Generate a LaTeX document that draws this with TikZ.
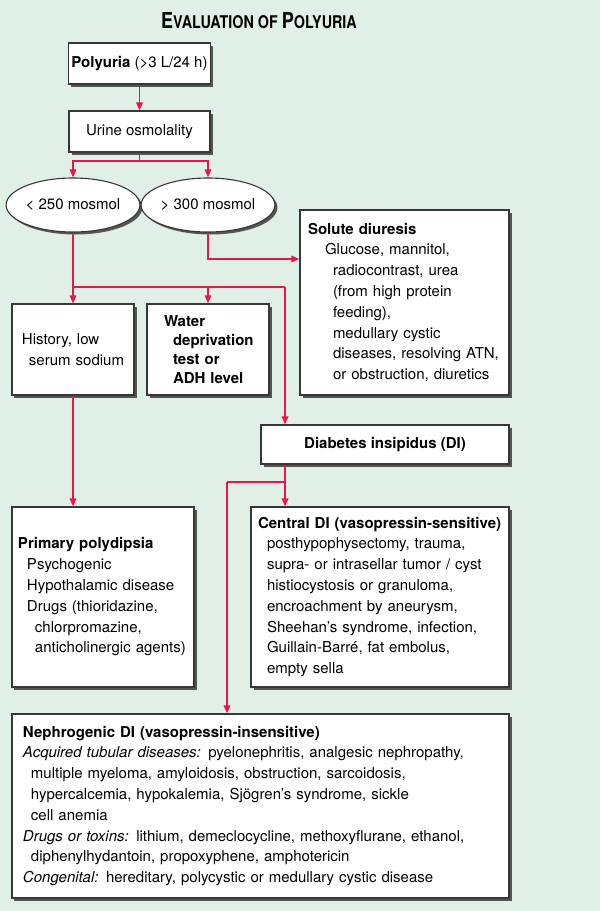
\documentclass[tikz,border=0pt]{standalone}
\usepackage{fontspec}
\setmainfont{TeX Gyre Heros}
\usepackage{tikz}
\usetikzlibrary{arrows.meta,shapes.geometric,shadows}
\definecolor{bgmint}{RGB}{224,240,231}
\definecolor{linkred}{RGB}{232,22,76}
\definecolor{boxline}{RGB}{55,55,55}
\definecolor{boxshade}{RGB}{85,85,85}
\newcommand{\bline}[2]{\mbox{\hspace*{#1bp}#2}}
\tikzset{
	box/.style={draw=boxline, line width=1.1bp, fill=white, inner ysep=0pt,
		general shadow={fill=boxshade, shadow xshift=2.5bp, shadow yshift=-2.5bp},
		font=\fontsize{15bp}{20.8bp}\selectfont},
	oval/.style={box, ellipse, inner sep=0pt},
	link/.style={draw=linkred, line width=1.6bp},
	arrow/.style={link, -{Triangle[length=8bp,width=6.5bp]}}
}
\begin{document}
\begin{tikzpicture}[x=1bp, y=-1bp]
	\useasboundingbox[fill=bgmint] (0,0) rectangle (600,911);
	\node[xscale=0.82, transform shape] (title) at (259,21) {\bfseries\fontsize{22bp}{22bp}\selectfont E\fontsize{17.5bp}{22bp}\selectfont VALUATION OF \fontsize{22bp}{22bp}\selectfont P\fontsize{17.5bp}{22bp}\selectfont OLYURIA};
	\node[box, minimum width=141bp, minimum height=41bp] (poly) at (139.5,63.5) {\textbf{Polyuria} (>3 L/24 h)};
	\node[box, minimum width=141bp, minimum height=41bp] (urine) at (139.5,131.5) {Urine osmolality};
	\node[oval, minimum width=122bp, minimum height=54bp] (low) at (73,205) {< 250 mosmol};
	\node[oval, minimum width=122bp, minimum height=54bp] (high) at (208,205) {> 300 mosmol};
	\node[box, minimum width=209bp, minimum height=185bp, inner xsep=8bp, text width=193bp, align=left] (solute) at (404.5,302.5)
		{\bline{0}{\textbf{Solute diuresis}}\\\bline{17}{Glucose, mannitol,}\\\bline{25}{radiocontrast, urea}\\\bline{25}{(from high protein}\\\bline{25}{feeding),}\\\bline{25}{medullary cystic}\\\bline{25}{diseases, resolving ATN,}\\\bline{25}{or obstruction, diuretics}};
	\node[box, minimum width=122bp, minimum height=91bp, inner xsep=10bp, text width=102bp, align=left] (hist) at (73,349.5)
		{\bline{0}{History, low}\\\bline{7}{serum sodium}};
	\node[box, minimum width=122bp, minimum height=91bp, inner xsep=17bp, text width=88bp, align=left, font=\fontsize{15bp}{19bp}\selectfont\bfseries] (water) at (208,349.5)
		{\bline{0}{Water}\\\bline{9}{deprivation}\\\bline{9}{test or}\\\bline{9}{ADH level}};
	\node[box, minimum width=248bp, minimum height=39bp] (di) at (385,444.5) {\textbf{Diabetes insipidus (DI)}};
	\node[box, minimum width=182bp, minimum height=180bp, inner xsep=6bp, text width=170bp, align=left] (prim) at (103,597)
		{\bline{0}{\textbf{Primary polydipsia}}\\\bline{9}{Psychogenic}\\\bline{9}{Hypothalamic disease}\\\bline{9}{Drugs (thioridazine,}\\\bline{17}{chlorpromazine,}\\\bline{17}{anticholinergic agents)}};
	\node[box, minimum width=258bp, minimum height=180bp, inner xsep=7bp, text width=244bp, align=left] (central) at (380,597)
		{\bline{0}{\textbf{Central DI (vasopressin-sensitive)}}\\\bline{9}{posthypophysectomy, trauma,}\\\bline{9}{supra- or intrasellar tumor / cyst}\\\bline{9}{histiocystosis or granuloma,}\\\bline{9}{encroachment by aneurysm,}\\\bline{9}{Sheehan's syndrome, infection,}\\\bline{9}{Guillain-Barré, fat embolus,}\\\bline{9}{empty sella}};
	\node[box, minimum width=497bp, minimum height=184bp, inner xsep=11bp, text width=475bp, align=left] (nephro) at (260.5,806)
		{\bline{0}{\textbf{Nephrogenic DI (vasopressin-insensitive)}}\\\bline{0}{\textit{Acquired tubular diseases:} pyelonephritis, analgesic nephropathy,}\\\bline{8}{multiple myeloma, amyloidosis, obstruction, sarcoidosis,}\\\bline{8}{hypercalcemia, hypokalemia, Sjögren’s syndrome, sickle}\\\bline{8}{cell anemia}\\\bline{0}{\textit{Drugs or toxins:} lithium, demeclocycline, methoxyflurane, ethanol,}\\\bline{8}{diphenylhydantoin, propoxyphene, amphotericin}\\\bline{0}{\textit{Congenital:} hereditary, polycystic or medullary cystic disease}};
	\coordinate (s1) at (139.5,161);
	\coordinate (s2) at (73,287);
	\coordinate (s3) at (285,287);
	\coordinate (s4) at (208,259);
	\coordinate (s5) at (285,482);
	\coordinate (s6) at (227,482);
	\draw[arrow] (poly) -- (urine);
	\draw[link] (urine.south) -- (s1);
	\draw[arrow] (s1) -| (low.north);
	\draw[arrow] (s1) -| (high.north);
	\draw[link] (low.south) -- (s2) -- (s3);
	\draw[arrow] (s2) -- (hist.north);
	\draw[arrow] (s2 -| water.north) -- (water.north);
	\draw[arrow] (s3) -- (s3 |- di.north);
	\draw[arrow] (high.south) -- (s4) -- (s4 -| solute.west);
	\draw[arrow] (hist.south) -- (hist.south |- prim.north);
	\draw[link] (s5 |- di.south) -- (s5) -- (s6);
	\draw[arrow] (s5) -- (s5 |- central.north);
	\draw[arrow] (s6) -- (s6 |- nephro.north);
\end{tikzpicture}
\end{document}
